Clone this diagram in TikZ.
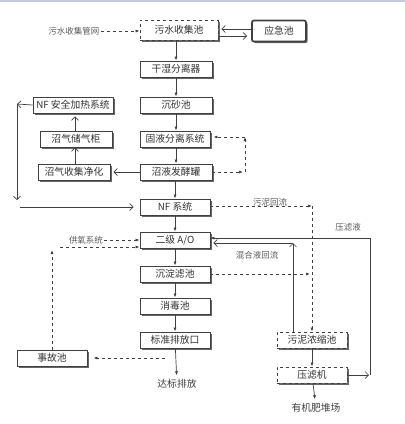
\documentclass[tikz,border=0pt]{standalone}
\usepackage{fontspec}
\setmainfont{Noto Sans CJK SC}
\usetikzlibrary{arrows.meta,shadows}
\tikzset{
  box/.style={draw=black!75, fill=white, line width=0.8pt, minimum width=70pt,
    minimum height=16pt, inner sep=1pt, text=black!80,
    font=\fontsize{9.8}{10}\selectfont,
    drop shadow={shadow xshift=1.6pt, shadow yshift=-1.6pt, fill=black!60, opacity=1}},
  dbox/.style={box, dashed},
  lbl/.style={inner sep=1pt, text=black!65, font=\fontsize{8.5}{8.5}\selectfont},
  flow/.style={draw=black!75, line width=0.7pt, -{Latex[length=4pt,width=3pt]}},
  dflow/.style={flow, dashed},
  oflow/.style={draw=black!75, line width=0.7pt, -{Straight Barb[length=3.5pt,width=7pt]}}
}
\begin{document}
\begin{tikzpicture}[x=1pt,y=-1pt]
\useasboundingbox (0,0) rectangle (405,424);
\fill[blue!25!gray!35] (0,0) rectangle (405,2);
% main line
\node[dbox, minimum width=78pt, minimum height=20pt] (ws) at (179,30) {污水收集池};
\node[box, minimum width=54pt, minimum height=21pt, line width=1.7pt, rounded corners=2pt,
  drop shadow={shadow xshift=0pt, shadow yshift=0pt, opacity=0}] (yj) at (279,31) {应急池};
\node[box, minimum width=72pt] (gs) at (176,69) {干湿分离器};
\node[box, minimum width=72pt] (cs) at (176,105) {沉砂池};
\node[box] (gy) at (175,139) {固液分离系统};
\node[box, minimum width=72pt] (zy) at (176,172) {沼液发酵罐};
\node[box] (nf) at (175,207) {NF 系统};
\node[box] (ao) at (175,240) {二级 A/O};
\node[box] (cd) at (175,274) {沉淀滤池};
\node[box] (xd) at (175,306) {消毒池};
\node[box, inner sep=0pt] (bz) at (175,340) {标准排放口};
\node[lbl, font=\fontsize{9.8}{10}\selectfont, text=black!75] (db) at (177,384) {达标排放};
% biogas side
\node[box, minimum width=80pt] (nfh) at (73,105) {NF 安全加热系统};
\node[box, minimum width=72pt] (cq) at (76,139) {沼气储气柜};
\node[box, minimum width=72pt] (sj) at (74,172) {沼气收集净化};
\node[box] (sg) at (52,358) {事故池};
% sludge side
\node[dbox] (wn) at (312,340) {污泥浓缩池};
\node[dbox] (ylj) at (312,375) {压滤机};
\node[lbl, font=\fontsize{9.8}{10}\selectfont, text=black!75] (yf) at (316,408) {有机肥堆场};
% labels
\node[lbl] (gw) at (74,31) {污水收集管网};
\node[lbl] (gyx) at (86,240) {供氧系统};
\node[lbl] (wh) at (270,202) {污泥回流};
\node[lbl] (hh) at (257,255) {混合液回流};
\node[lbl] (yl) at (348,227) {压滤液};
\coordinate (h1) at (17,104);
\coordinate (h2) at (17,200);
\coordinate (h3) at (20,207);
\coordinate (r1) at (245,172);
\coordinate (r2) at (245,137);
\coordinate (s1) at (312,206);
\coordinate (m1) at (293,243);
\coordinate (p1) at (370,375);
\coordinate (p2) at (370,238);
\coordinate (k1) at (60,247);
\coordinate (k2) at (53,250);
\coordinate (a1) at (165,358);

\draw[dflow] (gw.east) -- (ws.west |- gw.east);
\draw[oflow, shorten >=3pt] ([yshift=2pt]yj.west) -- ([yshift=2pt]yj.west -| ws.east);
\draw[oflow, shorten >=4pt] ([yshift=-6pt]ws.east) -- ([yshift=-6pt]ws.east -| yj.west);
\draw[flow] (gs.north |- ws.south) -- (gs.north);
\draw[flow] (gs) -- (cs);
\draw[flow] (cs) -- (gy.north -| cs);
\draw[flow] (gy.south -| zy) -- (zy);
\draw[flow] (zy.south -| nf) -- (nf);
\draw[flow] (nf) -- (ao);
\draw[flow] (ao) -- (cd);
\draw[flow] (cd) -- (xd);
\draw[flow] (xd) -- (bz);
\draw[flow, shorten >=3pt] (bz) -- (db);
% biogas loop
\draw[oflow, shorten >=3pt] (zy.west) -- (zy.west -| sj.east);
\draw[oflow] (sj.north -| 75,0) -- (cq.south -| 75,0);
\draw[oflow, shorten >=3pt] (cq.north -| 75,0) -- (nfh.south -| 75,0);
\draw[oflow] (nfh.west) -- (h1);
\draw[oflow] (h1) -- (h2);
\draw[oflow, shorten >=6pt] (h3) -- (nf.west);
% return loop
\draw[dflow, shorten >=2pt] (zy.east) -- (r1);
\draw[dflow] (r1) -- (r2);
\draw[dflow, shorten >=3pt] (r2) -- (r2 -| gy.east);
% sludge
\draw[dflow] (nf.east |- s1) -- (s1);
\draw[dflow] (s1) -- (wn.north);
\draw[dflow, shorten >=2pt] (cd.east) -- (cd.east -| s1);
\draw[oflow] (wn.north -| m1) -- (m1);
\draw[oflow, shorten >=3pt] (m1) -- (m1 -| ao.east);
\draw[flow] (wn) -- (ylj);
\draw[flow, shorten >=3pt] (ylj) -- (yf);
\draw[oflow, shorten >=1pt] (ylj.east) -- (p1);
\draw[draw=black!75, line width=0.7pt] (p1) -- (p2);
\draw[flow] (p2) -- (p2 -| ao.east);
% oxygen and emergency
\draw[dflow] (gyx.east) -- (ao.west |- gyx.east);
\draw[dflow] (k1) -- (k1 -| ao.west);
\draw[dflow] (sg.north) -- (sg.north |- k2);
\draw[dflow, shorten >=6pt] (a1) -- (sg.east);
\end{tikzpicture}
\end{document}
